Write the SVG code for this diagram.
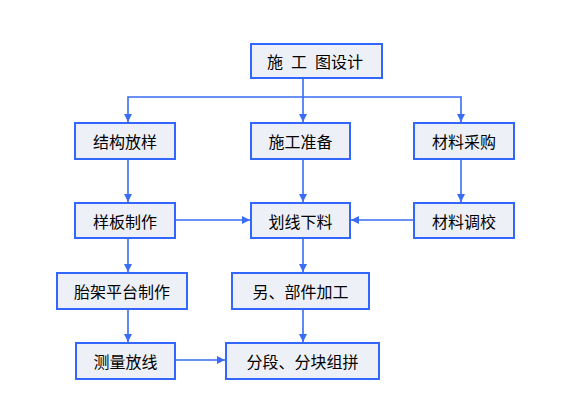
<svg xmlns="http://www.w3.org/2000/svg" width="579" height="410" viewBox="0 0 579 410">
<defs>
<style>
.box{fill:#eef0f8;stroke:#3366ff;stroke-width:2}
.lbl{font-family:"Noto Sans CJK SC","Liberation Sans",sans-serif;font-size:16px;fill:#000;text-anchor:middle;dominant-baseline:central}
.ln{fill:none;stroke:#3a6cf4;stroke-width:1.6}
</style>
<marker id="ah" viewBox="0 0 8 8" refX="8" refY="4" markerWidth="8" markerHeight="8" markerUnits="userSpaceOnUse" orient="auto">
<path d="M0,0 L8,4 L0,8 Z" fill="#3a6cf4"/>
</marker>
</defs>
<rect width="579" height="410" fill="#ffffff"/>
<g id="connectors">
<path class="ln" d="M303,78 V97 H128 V122" marker-end="url(#ah)"/>
<path class="ln" d="M303,97 V122" marker-end="url(#ah)"/>
<path class="ln" d="M303,97 H461 V122" marker-end="url(#ah)"/>
<path class="ln" d="M128,159 V202" marker-end="url(#ah)"/>
<path class="ln" d="M303,159 V202" marker-end="url(#ah)"/>
<path class="ln" d="M461,159 V202" marker-end="url(#ah)"/>
<path class="ln" d="M175,220 H250" marker-end="url(#ah)"/>
<path class="ln" d="M414,220 H351" marker-end="url(#ah)"/>
<path class="ln" d="M128,238 V272" marker-end="url(#ah)"/>
<path class="ln" d="M303,238 V272" marker-end="url(#ah)"/>
<path class="ln" d="M128,309 V342" marker-end="url(#ah)"/>
<path class="ln" d="M303,309 V342" marker-end="url(#ah)"/>
<path class="ln" d="M175,360 H225" marker-end="url(#ah)"/>
</g>
<g id="n1"><rect class="box" x="251" y="44" width="131" height="34"/><text class="lbl" x="315" y="61" xml:space="preserve" word-spacing="4.4">施 工 图设计</text></g>
<g id="n2"><rect class="box" x="75" y="123" width="100" height="36"/><text class="lbl" x="125" y="141">结构放样</text></g>
<g id="n3"><rect class="box" x="251" y="123" width="99" height="36"/><text class="lbl" x="300.5" y="141">施工准备</text></g>
<g id="n4"><rect class="box" x="414" y="123" width="100" height="36"/><text class="lbl" x="464" y="141">材料采购</text></g>
<g id="n5"><rect class="box" x="75" y="203" width="100" height="35"/><text class="lbl" x="125" y="220.5">样板制作</text></g>
<g id="n6"><rect class="box" x="251" y="203" width="99" height="35"/><text class="lbl" x="300.5" y="220.5">划线下料</text></g>
<g id="n7"><rect class="box" x="414" y="203" width="100" height="35"/><text class="lbl" x="464" y="220.5">材料调校</text></g>
<g id="n8"><rect class="box" x="57" y="273" width="130" height="36"/><text class="lbl" x="122" y="291">胎架平台制作</text></g>
<g id="n9"><rect class="box" x="232" y="273" width="137" height="36"/><text class="lbl" x="300.5" y="291">另、部件加工</text></g>
<g id="n10"><rect class="box" x="76" y="343" width="99" height="36"/><text class="lbl" x="125.5" y="361">测量放线</text></g>
<g id="n11"><rect class="box" x="226" y="343" width="153" height="36"/><text class="lbl" x="302.5" y="361">分段、分块组拼</text></g>
</svg>
